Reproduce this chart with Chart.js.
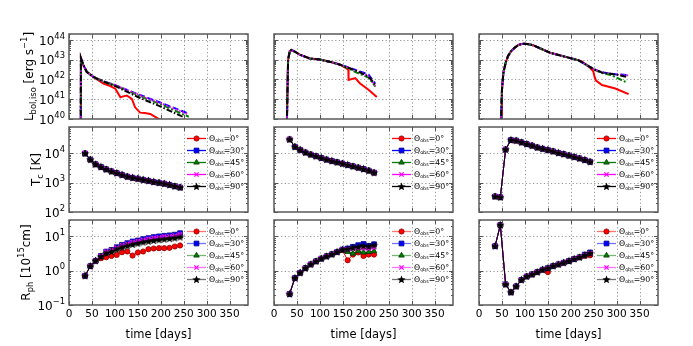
<!DOCTYPE html>
<html>
<head>
<meta charset="utf-8">
<script src="https://cdn.jsdelivr.net/npm/chart.js@4.4.0/dist/chart.umd.min.js"></script>
<style>
  html, body { margin: 0; padding: 0; background: #fff; }
  #wrap { position: relative; width: 693px; height: 346px; overflow: hidden; }
  #wrap canvas { position: absolute; }
</style>
</head>
<body>
<div id="wrap"></div>
<script>
// observer angles (one series per angle) and axis ticks
const angles = [0, 30, 45, 60, 90];
const xTicks = [0, 50, 100, 150, 200, 250, 300, 350];
const lbolTicks = [1e40, 1e41, 1e42, 1e43, 1e44];
const tcTicks = [1e2, 1e3, 1e4];
const rphTicks = [1e-1, 1e0, 1e1];

// epochs of the Tc / Rph points
const daysA = [35, 46.5, 58, 69.5, 81, 92.5, 104, 115.5, 127, 138.5, 150, 161.5, 173, 184.5, 196, 207.5, 219, 230.5, 242];
const daysB = [34, 45.5, 57, 68.5, 80, 91.5, 103, 114.5, 126, 137.5, 149, 160.5, 172, 183.5, 195, 206.5, 218];

// --- L_bol,iso light curves, [day, erg/s] ---
const lbolLeftHead = [[25.5, 1e39], [26, 1.2e43], [31, 5.5e42], [38.6, 2.45e42], [53, 1.35e42]];
const lbolLeft0 = lbolLeftHead.concat([[75, 6.2e41], [90, 4.6e41], [101, 3.4e41], [112, 1.25e41], [118, 1.4e41], [126, 1.55e41], [137, 1.05e41], [144, 3.9e40], [155, 2.1e40], [165, 2e40], [177, 1.8e40], [199, 9e39], [215, 5e39]]);
const lbolLeft30 = lbolLeftHead.concat([[75, 8.1e41], [101, 5.1e41], [150, 1.8e41], [200, 6.6e40], [261, 1.85e40]]);
const lbolLeft45 = lbolLeftHead.concat([[75, 8e41], [101, 5e41], [150, 1.6e41], [200, 5.5e40], [261, 1.3e40]]);
const lbolLeft60 = lbolLeftHead.concat([[75, 8.1e41], [101, 5.1e41], [150, 1.75e41], [200, 6.3e40], [258, 1.8e40]]);
const lbolLeft90 = lbolLeftHead.concat([[75, 7.9e41], [101, 4.6e41], [150, 1.3e41], [200, 4.2e40], [250, 1.25e40]]);

const lbolMidHead = [[27.5, 1e39], [29, 1e41], [30.7, 1e43], [34.4, 2.7e43], [38, 3.1e43], [45, 2.6e43], [56, 1.8e43], [78, 1.15e43], [100, 1.02e43], [126, 7.4e42], [144, 5.6e42]];
const lbolMid0 = lbolMidHead.concat([[162, 3.1e42], [162.5, 9.5e41], [177, 1.17e42], [187, 6.5e41], [206, 3e41], [224, 1.3e41]]);
const lbolMid30 = lbolMidHead.concat([[166, 3.8e42], [187, 2.6e42], [206, 1.75e42], [220, 6.5e41]]);
const lbolMid45 = lbolMidHead.concat([[166, 3.3e42], [180, 2.2e42], [206, 1.25e42], [221, 4.4e41]]);
const lbolMid60 = lbolMidHead.concat([[166, 3.7e42], [187, 2.4e42], [206, 1.45e42], [221, 4.4e41]]);
const lbolMid90 = lbolMidHead.concat([[166, 3.6e42], [187, 2.3e42], [206, 1.4e42], [222, 5.2e41]]);

const lbolRightHead = [[46.5, 1e39], [48, 1e40], [50, 3e41], [53, 2.1e42], [58, 7e42], [63, 1.5e43], [70, 2.7e43], [78, 4.1e43], [86, 5.6e43], [96, 6.5e43], [105, 6.3e43], [118, 5.4e43], [135, 3.6e43], [155, 2.25e43], [191, 1.35e43], [217, 9.3e42]];
const lbolRight0 = lbolRightHead.concat([[224, 8.3e42], [237, 5e42], [249, 2.6e42], [252, 1.3e42], [255, 8.7e41], [268, 5.2e41], [297, 3.5e41], [326, 1.8e41]]);
const lbolRight30 = lbolRightHead.concat([[249, 3.4e42], [268, 2.3e42], [300, 1.8e42], [322, 1.7e42]]);
const lbolRight45 = lbolRightHead.concat([[249, 3.3e42], [268, 2.1e42], [287, 1.7e42], [322, 7e41]]);
const lbolRight60 = lbolRightHead.concat([[249, 3.4e42], [268, 2.3e42], [300, 1.8e42], [325, 1.6e42]]);
const lbolRight90 = lbolRightHead.concat([[249, 3.4e42], [268, 2.25e42], [300, 1.75e42], [322, 1.35e42]]);

// --- T_c [K], same for every angle ---
const tcLeft = [10000, 6170, 4270, 3470, 2880, 2450, 2140, 1860, 1620, 1480, 1380, 1260, 1170, 1070, 1000, 930, 850, 760, 690];
const tcMid = [30200, 16900, 13300, 10800, 9200, 8070, 7070, 6190, 5570, 5010, 4510, 4050, 3650, 3280, 2950, 2590, 2210];
const tcRight = [340, 320, 13700, 28800, 27500, 24000, 21000, 18500, 16000, 14500, 13200, 11800, 10500, 9500, 8500, 7600, 6800, 6000, 5200];

// --- R_ph [1e15 cm] ---
const rphLeft0 = [0.71, 1.36, 1.92, 2.30, 2.46, 2.69, 2.88, 3.45, 3.62, 2.76, 3.38, 3.62, 4.23, 4.43, 4.53, 4.53, 4.63, 5.07, 5.43];
const rphLeft30 = [0.71, 1.36, 1.95, 2.69, 3.61, 4.05, 4.84, 5.68, 6.35, 7.11, 7.61, 8.34, 8.91, 9.53, 9.98, 10.4, 10.7, 11.2, 12.4];
const rphLeft45 = [0.71, 1.36, 1.95, 2.6, 3.3, 3.8, 4.4, 5.0, 5.6, 6.1, 6.6, 7.1, 7.6, 8.0, 8.4, 8.8, 9.1, 9.5, 10.2];
const rphLeft60 = [0.71, 1.36, 1.95, 2.7, 3.6, 4.0, 4.7, 5.5, 6.1, 6.8, 7.3, 7.9, 8.5, 9.0, 9.4, 9.8, 10.1, 10.6, 11.4];
const rphLeft90 = [0.71, 1.36, 1.95, 2.55, 3.2, 3.6, 4.2, 4.8, 5.3, 5.8, 6.3, 6.8, 7.2, 7.6, 8.0, 8.3, 8.6, 9.0, 9.6];

const rphMid0 = [0.21, 0.61, 0.87, 1.19, 1.53, 1.88, 2.25, 2.63, 3.01, 3.53, 4.0, 2.01, 2.95, 3.39, 2.69, 2.95, 2.95];
const rphMid30 = [0.21, 0.61, 0.87, 1.19, 1.53, 1.88, 2.25, 2.63, 3.01, 3.53, 4.14, 4.44, 4.96, 5.55, 6.0, 5.3, 5.9];
const rphMid45 = [0.21, 0.61, 0.87, 1.19, 1.53, 1.88, 2.25, 2.63, 3.01, 3.5, 3.9, 3.53, 3.16, 3.7, 3.39, 3.53, 3.7];
const rphMid60 = [0.21, 0.61, 0.87, 1.19, 1.53, 1.88, 2.25, 2.63, 3.01, 3.53, 4.1, 4.2, 4.4, 4.6, 4.5, 4.4, 4.8];
const rphMid90 = [0.21, 0.61, 0.87, 1.19, 1.53, 1.88, 2.25, 2.63, 3.01, 3.53, 4.14, 4.3, 4.7, 5.0, 5.3, 5.1, 5.6];

const rphRight0 = [5.2, 21.5, 0.40, 0.235, 0.35, 0.54, 0.68, 0.78, 0.91, 1.07, 0.91, 1.37, 1.53, 1.71, 1.92, 2.20, 2.46, 2.7, 2.8];
const rphRight30 = [5.2, 21.5, 0.40, 0.235, 0.35, 0.54, 0.68, 0.78, 0.91, 1.07, 1.19, 1.37, 1.53, 1.71, 1.92, 2.20, 2.46, 2.95, 3.4];
const rphRight45 = [5.2, 21.5, 0.40, 0.235, 0.35, 0.54, 0.68, 0.78, 0.91, 1.07, 1.19, 1.37, 1.53, 1.71, 1.92, 2.20, 2.46, 2.82, 3.2];
const rphRight60 = [5.2, 21.5, 0.40, 0.235, 0.35, 0.54, 0.68, 0.78, 0.91, 1.07, 1.19, 1.37, 1.53, 1.71, 1.92, 2.20, 2.46, 2.82, 3.2];
const rphRight90 = [5.2, 21.5, 0.40, 0.235, 0.35, 0.54, 0.68, 0.78, 0.91, 1.07, 1.19, 1.37, 1.53, 1.71, 1.92, 2.20, 2.46, 2.82, 3.2];

// styles
const colors = ['#ff0000', '#0000ff', '#008000', '#ff00ff', '#000000'];
const edges = ['#8b0000', '#00008b', '#003300', '#ff00ff', '#000000'];
const dashes = [[], [6, 3], [6, 2, 2, 2], [1.5, 2], [6, 2, 1.5, 2]];
const radii = [2.6, 3.4, 3.2, 3, 3];
const FONT = 'DejaVu Sans';

// little filled star for the 90 deg markers
const starImg = (() => {
  const c = document.createElement('canvas');
  c.width = 9; c.height = 9;
  const g = c.getContext('2d');
  g.fillStyle = '#000';
  g.beginPath();
  for (let i = 0; i < 10; i++) {
    const r = i % 2 ? 1.9 : 4.3;
    const a = -Math.PI / 2 + i * Math.PI / 5;
    const px = 4.5 + r * Math.cos(a), py = 4.8 + r * Math.sin(a);
    if (i) g.lineTo(px, py); else g.moveTo(px, py);
  }
  g.closePath();
  g.fill();
  return c;
})();
const markers = ['circle', 'rect', 'triangle', 'crossRot', starImg];

// text with sub/superscripts: parts = [[text, 0 normal | 1 sub | 2 sup], ...]
function richWidth(ctx, parts, size, small) {
  let w = 0;
  parts.forEach(([t, k]) => {
    ctx.font = (k ? size * small : size) + 'px "' + FONT + '"';
    w += ctx.measureText(t).width;
  });
  return w;
}
function richText(ctx, parts, x, y, size, small) {
  ctx.textBaseline = 'middle';
  ctx.textAlign = 'left';
  parts.forEach(([t, k]) => {
    ctx.font = (k ? size * small : size) + 'px "' + FONT + '"';
    const dy = k === 1 ? size * 0.3 : k === 2 ? -size * 0.42 : 0;
    ctx.fillText(t, x, y + dy);
    x += ctx.measureText(t).width;
  });
}

// dotted grid, frame, inward ticks and the 10^n tick labels
const framePlugin = {
  id: 'frame',
  beforeDatasetsDraw(chart, args, opts) {
    const { ctx, chartArea: a, scales: { x, y } } = chart;
    ctx.save();
    ctx.strokeStyle = '#8a8a8a';
    ctx.lineWidth = 0.9;
    ctx.setLineDash([1.2, 2.4]);
    ctx.beginPath();
    xTicks.forEach(v => {
      const px = Math.round(x.getPixelForValue(v)) + 0.5;
      if (px > a.left + 2 && px < a.right - 2) { ctx.moveTo(px, a.top); ctx.lineTo(px, a.bottom); }
    });
    opts.yTicks.forEach(v => {
      const py = Math.round(y.getPixelForValue(v)) + 0.5;
      if (py > a.top + 2 && py < a.bottom - 2) { ctx.moveTo(a.left, py); ctx.lineTo(a.right, py); }
    });
    ctx.stroke();
    ctx.restore();
  },
  afterDatasetsDraw(chart, args, opts) {
    const { ctx, chartArea: a, scales: { x, y } } = chart;
    ctx.save();
    ctx.strokeStyle = '#555';
    ctx.lineWidth = 1;
    ctx.beginPath();
    xTicks.forEach(v => {
      const px = Math.round(x.getPixelForValue(v)) + 0.5;
      ctx.moveTo(px, a.bottom); ctx.lineTo(px, a.bottom - 4);
      ctx.moveTo(px, a.top); ctx.lineTo(px, a.top + 4);
    });
    const e0 = Math.floor(Math.log10(y.min)), e1 = Math.ceil(Math.log10(y.max));
    for (let e = e0; e <= e1; e++) {
      for (let k = 1; k <= 9; k++) {
        const v = k * Math.pow(10, e);
        if (v < y.min * 0.999 || v > y.max * 1.001) continue;
        const py = Math.round(y.getPixelForValue(v)) + 0.5;
        const len = k === 1 ? 4 : 2;
        ctx.moveTo(a.left, py); ctx.lineTo(a.left + len, py);
        ctx.moveTo(a.right, py); ctx.lineTo(a.right - len, py);
      }
    }
    ctx.stroke();
    ctx.lineWidth = 1.5;
    ctx.strokeStyle = '#5a5a5a';
    ctx.strokeRect(a.left, a.top, a.right - a.left, a.bottom - a.top);
    if (opts.labels) {
      ctx.fillStyle = '#000';
      opts.yTicks.forEach(v => {
        const e = Math.round(Math.log10(v));
        const parts = [['10', 0], [String(e).replace('-', '−'), 2]];
        const w = richWidth(ctx, parts, 12, 0.7);
        richText(ctx, parts, a.left - 4 - w, y.getPixelForValue(v) + 1.5, 12, 0.7);
      });
    }
    ctx.restore();
  }
};

// legend box inside the panel, and the y axis title
const notesPlugin = {
  id: 'notes',
  afterDraw(chart, args, opts) {
    const { ctx, chartArea: a } = chart;
    ctx.save();
    if (opts.legend) {
      chart.data.datasets.forEach((ds, i) => {
        const yy = a.top + 11.5 + 12 * i;
        ctx.globalAlpha = opts.legendAlpha;
        ctx.strokeStyle = colors[i];
        ctx.lineWidth = 1.3;
        ctx.setLineDash([]);
        ctx.beginPath();
        ctx.moveTo(a.left + 118, yy); ctx.lineTo(a.left + 137, yy);
        ctx.stroke();
        ctx.globalAlpha = 1;
        ctx.fillStyle = colors[i];
        ctx.strokeStyle = edges[i];
        ctx.lineWidth = i === 3 ? 1.3 : 0.8;
        Chart.helpers.drawPoint(ctx, { pointStyle: markers[i], radius: radii[i], rotation: 0, borderWidth: ctx.lineWidth }, a.left + 127.5, yy);
        ctx.fillStyle = '#000';
        richText(ctx, [['Θ', 0], ['obs', 1], ['=' + angles[i] + '°', 0]], a.left + 140, yy, 7.8, 0.62);
      });
    }
    if (opts.yTitle) {
      ctx.fillStyle = '#000';
      const cy = (a.top + a.bottom) / 2;
      ctx.translate(opts.yTitleX, cy);
      ctx.rotate(-Math.PI / 2);
      const w = richWidth(ctx, opts.yTitle, 12, 0.7);
      richText(ctx, opts.yTitle, -w / 2, 0, 12, 0.7);
    }
    ctx.restore();
  }
};

const colLeft = [69, 274, 479];
const rowTop = [34, 127, 220];
const PW = 179, PH = 85, AXW = 65, PADT = 6, PADR = 6, AXH = 41;
const wrap = document.getElementById('wrap');

// order: lower order is drawn last, so the 90 deg curve ends on top
function lineSets(series) {
  return series.map((pts, i) => ({
    data: pts.map(p => ({ x: p[0], y: p[1] })),
    borderColor: colors[i], borderWidth: 2, borderDash: dashes[i],
    pointRadius: 0, tension: 0, order: -i
  }));
}
function markerSets(days, series) {
  return series.map((vals, i) => ({
    data: days.map((d, j) => ({ x: d, y: vals[j] })),
    borderColor: colors[i], borderWidth: 1,
    pointStyle: markers[i], pointRadius: radii[i],
    pointBackgroundColor: colors[i], pointBorderColor: edges[i],
    pointBorderWidth: i === 3 ? 1.3 : 0.8, tension: 0, order: -i
  }));
}

function panel(col, row, datasets, yMin, yMax, yTicks, yTitle, yTitleX) {
  const c = document.createElement('canvas');
  c.width = AXW + PW + PADR;
  c.height = PADT + PH + AXH;
  c.style.left = (colLeft[col] - AXW) + 'px';
  c.style.top = (rowTop[row] - PADT) + 'px';
  wrap.appendChild(c);
  new Chart(c, {
    type: 'line',
    data: { datasets },
    options: {
      responsive: false, animation: false, devicePixelRatio: 1,
      layout: { padding: { top: PADT, right: PADR, left: 0, bottom: 0 } },
      plugins: {
        legend: { display: false }, tooltip: { enabled: false },
        frame: { yTicks, labels: col === 0 },
        notes: { legend: row > 0, legendAlpha: row === 2 ? 0.55 : 1, yTitle: col === 0 ? yTitle : null, yTitleX }
      },
      scales: {
        x: {
          type: 'linear', min: 0, max: 390,
          grid: { display: false, drawTicks: false }, border: { display: false },
          afterFit: s => { s.height = AXH; },
          afterBuildTicks: s => { s.ticks = xTicks.map(v => ({ value: v })); },
          ticks: { display: row === 2, autoSkip: false, maxRotation: 0, padding: 3, color: '#000', font: { family: FONT, size: 10.5 } },
          title: { display: row === 2, text: 'time [days]', color: '#000', font: { family: FONT, size: 11.5 }, padding: { top: 2, bottom: 4 } }
        },
        y: {
          type: 'logarithmic', min: yMin, max: yMax,
          grid: { display: false, drawTicks: false }, border: { display: false },
          afterFit: s => { s.width = AXW; },
          afterBuildTicks: s => { s.ticks = yTicks.map(v => ({ value: v })); },
          ticks: { display: false }
        }
      }
    },
    plugins: [framePlugin, notesPlugin]
  });
}

const lbolTitle = [['L', 0], ['bol,iso', 1], [' [erg s', 0], ['−1', 2], [']', 0]];
const tcTitle = [['T', 0], ['c', 1], [' [K]', 0]];
const rphTitle = [['R', 0], ['ph', 1], [' [10', 0], ['15', 2], ['cm]', 0]];

panel(0, 0, lineSets([lbolLeft0, lbolLeft30, lbolLeft45, lbolLeft60, lbolLeft90]), 1e40, 2e44, lbolTicks, lbolTitle, 26);
panel(1, 0, lineSets([lbolMid0, lbolMid30, lbolMid45, lbolMid60, lbolMid90]), 1e40, 2e44, lbolTicks);
panel(2, 0, lineSets([lbolRight0, lbolRight30, lbolRight45, lbolRight60, lbolRight90]), 1e40, 2e44, lbolTicks);

panel(0, 1, markerSets(daysA, [tcLeft, tcLeft, tcLeft, tcLeft, tcLeft]), 100, 8e4, tcTicks, tcTitle, 33);
panel(1, 1, markerSets(daysB, [tcMid, tcMid, tcMid, tcMid, tcMid]), 100, 8e4, tcTicks);
panel(2, 1, markerSets(daysA, [tcRight, tcRight, tcRight, tcRight, tcRight]), 100, 8e4, tcTicks);

panel(0, 2, markerSets(daysA, [rphLeft0, rphLeft30, rphLeft45, rphLeft60, rphLeft90]), 0.1, 30, rphTicks, rphTitle, 23);
panel(1, 2, markerSets(daysB, [rphMid0, rphMid30, rphMid45, rphMid60, rphMid90]), 0.1, 30, rphTicks);
panel(2, 2, markerSets(daysA, [rphRight0, rphRight30, rphRight45, rphRight60, rphRight90]), 0.1, 30, rphTicks);
</script>
</body>
</html>
